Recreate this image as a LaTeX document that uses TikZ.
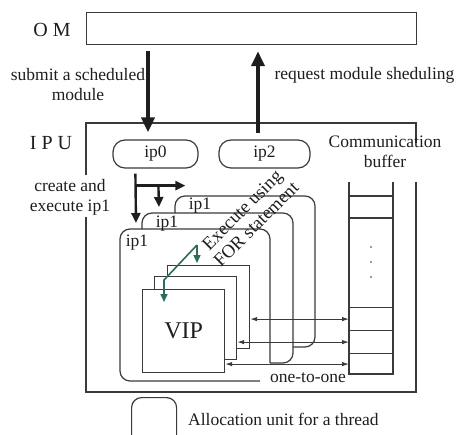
\documentclass[tikz,border=0pt]{standalone}
\usepackage{fontspec}
\setmainfont{Liberation Serif}
\usetikzlibrary{arrows.meta,calc}
\definecolor{lncol}{HTML}{3A3A3A}
\definecolor{grncol}{HTML}{2E6B5E}
\definecolor{txtcol}{HTML}{1E1E1E}
\begin{document}
\begin{tikzpicture}[x=1pt,y=-1pt,
  txt/.style={font=\fontsize{17.5}{20}\selectfont, text=txtcol, inner sep=0pt, align=center},
  bigtxt/.style={font=\fontsize{20}{22}\selectfont, text=txtcol, inner sep=0pt},
  ln/.style={draw=lncol, line width=1.2pt},
  pill/.style={ln, rounded corners=12pt, minimum height=28, inner sep=0pt, font=\fontsize{17.5}{20}\selectfont, text=txtcol},
  sq/.style={ln, fill=white, minimum width=82, minimum height=83, anchor=north west, inner sep=0pt},
  slot/.style={ln, minimum width=44, anchor=north west, inner sep=0pt},
  bigarr/.style={draw=txtcol, line width=4.5pt, -{Triangle[width=13pt,length=15pt]}},
  midarr/.style={draw=txtcol, line width=2.4pt, -{Triangle[width=9pt,length=10pt]}},
  dbl/.style={draw=lncol, line width=1pt, {Latex[length=7pt,width=4.5pt]}-{Latex[length=7pt,width=4.5pt]}},
  grn/.style={draw=grncol, line width=1.6pt},
  grnarr/.style={grn, -{Triangle[width=7pt,length=8pt]}}]
\useasboundingbox (0,0) rectangle (463,434);
\clip (0,0) rectangle (463,434);

% OM
\node[ln, minimum width=330, minimum height=32, anchor=north west, inner sep=0pt] (OM) at (86,12) {};
\node[bigtxt] (omlbl) at (52,30) {O M};

% IPU frame
\draw[ln] (86,175) -- (86,123) -- (416,123) -- (416,143);
\draw[ln] (416,182) -- (416,392) -- (86,392) -- (86,217);
\node[bigtxt] (ipulbl) at (51,143) {I P U};

% texts
\node[txt] (submit) at (78,85) {submit a scheduled\\module};
\node[txt] (request) at (364.5,75) {request module sheduling};
\node[txt] (create) at (70,197) {create and\\execute ip1};
\node[txt] (commbuf) at (385,152) {Communication\\buffer};

% ip0 / ip2
\node[pill, minimum width=85] (ip0) at (155.5,154) {ip0};
\node[pill, minimum width=91] (ip2) at (264.5,154) {ip2};

% OM arrows
\draw[bigarr] ($(OM.south west)+(62,6)$) -- ($(ip0.north)+(-7.5,-7)$);
\draw[bigarr] ($(ip2.north)+(-6.5,-6)$) -- ($(OM.south west)+(172,6)$);

% ip1 boxes
\coordinate (F) at (120,229);
\coordinate (M) at (142,213);
\coordinate (B) at (175,196);
\draw[ln, rounded corners=10pt] ($(B)+(0,17)$) -- (B) -- (315,196) -- (315,347) -- (293,347);
\draw[ln, rounded corners=10pt] ($(M)+(0,16)$) -- (M) -- (293,213) -- (293,363) -- (270,363);
\draw[ln, rounded corners=10pt] (270,363) -- (270,229) -- (F) -- (120,381) -- (260,381);
\node[txt] (ip1b) at (200,206) {ip1};
\node[txt] (ip1m) at (167,224) {ip1};
\node[txt] (ip1f) at (137,243) {ip1};
\node[txt] (one) at (308,378) {one-to-one};

% arrows from ip0
\draw[midarr] ($(ip0.south west)+(23,5)$) -- ($(F)+(16,-6)$);
\draw[midarr] ($(ip0.south west)+(23,17)$) -- ++(50,0);
\draw[midarr] ($(ip0.south west)+(46,17)$) -- ($(M)+(17,-6)$);

% VIP squares
\node[sq] (vip3) at (167,265) {};
\node[sq] (vip2) at (154,276) {};
\node[sq, font=\fontsize{24}{26}\selectfont, text=txtcol] (vip1) at (142,289) {VIP};

% buffer
\draw[ln] (349,182) -- (349,374) -- (393,374) -- (393,182);
\draw[ln] (349,196) -- (393,196);
\draw[ln] (349,218) -- (393,218);
\fill[lncol] (371,247) circle (0.9) (371,262) circle (0.9) (371,277) circle (0.9);
\node[slot, minimum height=23] (s1) at (349,307) {};
\node[slot, minimum height=23] (s2) at (349,330) {};
\node[slot, minimum height=21] (s3) at (349,353) {};

% one-to-one arrows
\draw[dbl] (s1.west) -- (s1.west -| vip3.east);
\draw[dbl] (s2.west) -- (s2.west -| vip2.east);
\draw[dbl] (s3.west) -- (s3.west -| vip1.east);

% green arrows
\coordinate (G) at (197,245);
\coordinate (G2) at (164,280);
\draw[grnarr] (G) -- ($(vip3.north west)+(30,-2)$);
\draw[grnarr] (G) -- (G2) -- ($(vip1.north west)+(22,13)$);
\node[txt, font=\fontsize{18.5}{20}\selectfont, rotate=45] (exec) at (249,217) {Execute using\\FOR statement};

% legend
\node[ln, rounded corners=10pt, minimum width=45, minimum height=48, anchor=north west, inner sep=0pt] (leg) at (131,397) {};
\node[txt, anchor=base west] (legt) at (188,425) {Allocation unit for a thread};
\end{tikzpicture}
\end{document}
